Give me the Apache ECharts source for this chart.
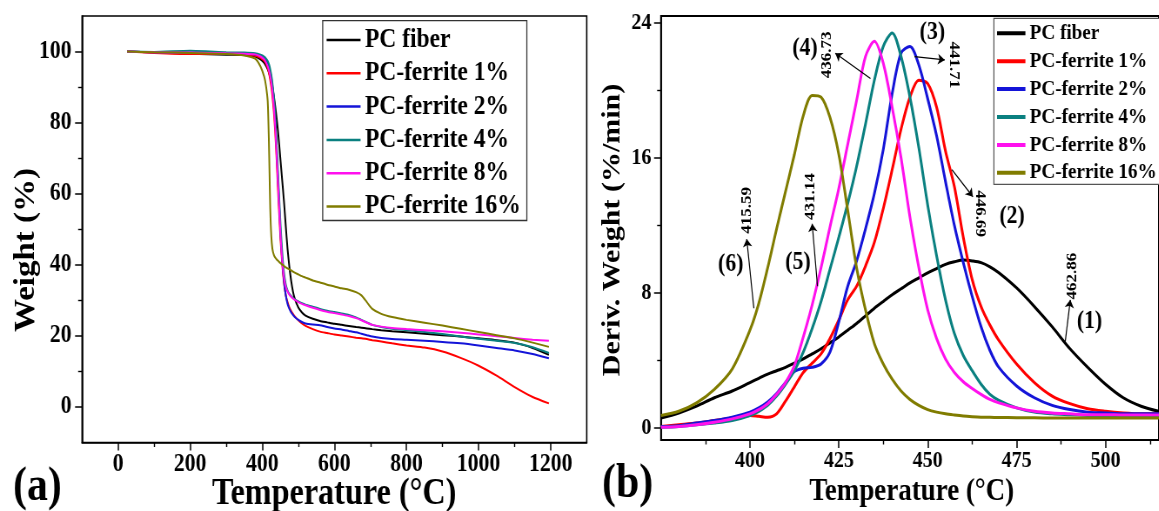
<!DOCTYPE html>
<html>
<head>
<meta charset="utf-8">
<script src="https://cdn.jsdelivr.net/npm/echarts@6/dist/echarts.min.js"></script>
<style>
  html, body { margin: 0; padding: 0; background: #fff; overflow: hidden; }
  #wrap { width: 1159px; height: 511px; overflow: hidden; }
  /* the figure is typeset slightly condensed horizontally */
  #chart { width: 1332px; height: 511px; transform: scaleX(0.87); transform-origin: 0 0; }
</style>
</head>
<body>
<div id="wrap"><div id="chart"></div></div>
<script>
// ---- (a) TGA: weight (%) vs temperature (°C) ----
const tgaTemp = [25, 100, 200, 300, 350, 380, 395, 405, 410, 415, 418, 420, 422, 425, 428, 432, 436, 440, 445, 450,
  455, 460, 465, 470, 475, 480, 485, 490, 500, 510, 520, 540, 560, 580, 600, 620, 640, 660, 675, 690,
  705, 730, 760, 800, 850, 900, 950, 1000, 1050, 1100, 1150, 1195];
const tgaPCFiber = [100, 99.8, 99.4, 99.1, 99.0, 98.6, 97.8, 96.8, 96, 95, 94.2, 93.5, 92.8, 91.5, 90, 87.5, 84.5, 81, 76, 70,
  64, 58, 51, 44.5, 39.5, 35.5, 32.5, 30.5, 28, 26.6, 25.7, 24.8, 24.2, 23.8, 23.4, 23.1, 22.8, 22.5, 22.3, 22.1,
  21.9, 21.6, 21.3, 21, 20.6, 20.2, 19.8, 19.3, 18.8, 18.1, 16.6, 14.7];
const tgaFerrite1 = [100, 99.6, 99.3, 99.3, 99.2, 98.8, 98.2, 97.4, 96.6, 95.3, 94.2, 93.2, 92, 90, 87.5, 83, 77, 69, 58, 48,
  40.5, 35, 31.5, 29.5, 28, 27, 26.2, 25.5, 24.4, 23.5, 22.8, 21.9, 21.2, 20.8, 20.4, 20.1, 19.8, 19.5, 19.3, 19.1,
  18.8, 18.4, 17.9, 17.3, 16.7, 15.6, 13.8, 11.6, 8.8, 5.6, 2.8, 1.0];
const tgaFerrite2 = [100, 99.8, 99.7, 99.5, 99.4, 99.2, 98.8, 98.2, 97.6, 96.8, 96, 95.2, 94.3, 92.6, 90.5, 86.5, 80.5, 72, 61, 50,
  41.5, 35.5, 31.5, 29, 27.6, 26.6, 25.9, 25.3, 24.5, 23.9, 23.5, 23.2, 23, 22.5, 22.1, 21.8, 21.4, 21, 20.6, 20.2,
  19.8, 19.4, 19.1, 18.9, 18.6, 18.3, 17.9, 17.3, 16.6, 15.9, 14.9, 13.7];
const tgaFerrite4 = [100, 99.9, 100.2, 99.8, 99.7, 99.5, 99.1, 98.6, 98.1, 97.3, 96.6, 95.9, 95, 93.4, 91.2, 87.2, 81.5, 73.5, 63, 52.5,
  44, 38, 34.5, 32.8, 31.8, 31.2, 30.7, 30.3, 29.7, 29.2, 28.8, 28.2, 27.6, 27.1, 26.7, 26.3, 25.9, 25.2, 24.5, 23.8,
  23.1, 22.5, 22, 21.6, 21.1, 20.5, 19.8, 19.2, 18.6, 18, 16.8, 15.2];
const tgaFerrite8 = [100, 99.8, 99.7, 99.5, 99.4, 99.2, 98.6, 97.8, 97, 95.8, 94.8, 94, 93, 91.2, 88.8, 84.5, 78.5, 70.5, 60, 49.5,
  41.5, 36.5, 33.8, 32.5, 31.6, 31, 30.5, 30.1, 29.5, 29, 28.6, 27.9, 27.3, 26.8, 26.4, 26, 25.6, 25, 24.4, 23.7,
  23.1, 22.6, 22.2, 21.9, 21.6, 21.3, 20.9, 20.4, 19.9, 19.4, 18.9, 18.6];
const tgaFerrite16 = [100, 99.8, 99.6, 99.3, 98.9, 98, 95.8, 93, 90.5, 86, 76, 66, 56, 48, 44.5, 42.8, 42, 41.5, 41, 40.5,
  40.1, 39.7, 39.3, 39, 38.7, 38.4, 38.1, 37.8, 37.3, 36.8, 36.4, 35.6, 35, 34.4, 33.9, 33.4, 33, 32.3, 31.4, 29.5,
  27.6, 26.2, 25.3, 24.5, 23.7, 22.9, 22, 21.1, 20.2, 19.3, 18.1, 16.9];

// ---- (b) DTG: derivative weight (%/min) vs temperature (°C) ----
const dtgTemp = [375, 380, 385, 390, 395, 400, 402.5, 405, 407.5, 410, 412.5, 415, 417.5, 420, 422.5, 425, 427.5, 430, 432.5, 435,
  437.5, 440, 442.5, 445, 447.5, 450, 452.5, 455, 457.5, 460, 462.5, 465, 467.5, 470, 475, 480, 485, 490, 495, 500,
  505, 510, 515];
const dtgPCFiber = [0.6, 0.9, 1.3, 1.8, 2.2, 2.7, 2.95, 3.2, 3.4, 3.6, 3.85, 4.1, 4.4, 4.7, 5.05, 5.4, 5.8, 6.2, 6.65, 7.1,
  7.5, 7.9, 8.25, 8.6, 8.9, 9.2, 9.45, 9.7, 9.85, 9.95, 9.9, 9.8, 9.55, 9.2, 8.3, 7.2, 6.0, 4.7, 3.6, 2.6,
  1.8, 1.3, 1.0];
const dtgFerrite1 = [0.1, 0.2, 0.3, 0.45, 0.6, 0.75, 0.7, 0.65, 0.85, 1.6, 2.45, 3.3, 3.85, 4.4, 5.3, 6.4, 7.6, 8.4, 9.6, 11.0,
  13.0, 15.3, 17.7, 19.6, 20.6, 20.4, 19.0, 16.4, 14.3, 11.3, 8.8, 7.2, 6.1, 5.2, 3.8, 2.7, 1.9, 1.45, 1.15, 1.0,
  0.9, 0.85, 0.85];
const dtgFerrite2 = [0.1, 0.15, 0.3, 0.45, 0.65, 0.95, 1.2, 1.55, 2.05, 2.7, 3.35, 3.55, 3.6, 3.8, 4.5, 6.3, 8.4, 9.9, 11.8, 13.9,
  16.5, 19.8, 22.2, 22.6, 21.5, 19.5, 17.3, 14.6, 12.0, 9.8, 7.8, 6.0, 4.6, 3.6, 2.5, 1.8, 1.35, 1.1, 0.95, 0.9,
  0.85, 0.85, 0.85];
const dtgFerrite4 = [0.05, 0.1, 0.2, 0.3, 0.45, 0.75, 1.0, 1.35, 1.9, 2.6, 3.4, 4.5, 5.9, 7.5, 9.4, 11.3, 13.3, 15.5, 18.0, 20.6,
  22.6, 23.4, 22.0, 19.6, 16.6, 13.2, 10.2, 7.6, 5.6, 4.3, 3.4, 2.6, 2.0, 1.65, 1.2, 0.95, 0.85, 0.8, 0.75, 0.72,
  0.7, 0.7, 0.7];
const dtgFerrite8 = [0.05, 0.1, 0.2, 0.35, 0.55, 0.85, 1.1, 1.45, 2.0, 2.7, 3.7, 5.4, 7.3, 9.5, 11.9, 14.2, 16.8, 19.4, 22.0, 22.9,
  21.6, 19.0, 16.0, 12.5, 9.5, 7.0, 5.3, 4.1, 3.3, 2.75, 2.35, 2.0, 1.7, 1.5, 1.2, 1.0, 0.9, 0.85, 0.8, 0.8,
  0.78, 0.78, 0.78];
const dtgFerrite16 = [0.75, 1.0, 1.5, 2.3, 3.5, 5.8, 7.4, 9.5, 11.8, 14.0, 16.2, 18.5, 19.7, 19.6, 18.4, 16.2, 12.9, 9.5, 7.0, 5.0,
  3.8, 2.9, 2.2, 1.7, 1.35, 1.1, 0.95, 0.85, 0.78, 0.72, 0.68, 0.65, 0.64, 0.63, 0.62, 0.61, 0.6, 0.6, 0.6, 0.6,
  0.6, 0.6, 0.6];

const seriesNames = ['PC fiber', 'PC-ferrite 1%', 'PC-ferrite 2%', 'PC-ferrite 4%', 'PC-ferrite 8%', 'PC-ferrite 16%'];
const seriesColors = ['#000000', '#ff0000', '#1414d8', '#0a8080', '#ff10ee', '#807c00'];
const tgaSets = [tgaPCFiber, tgaFerrite1, tgaFerrite2, tgaFerrite4, tgaFerrite8, tgaFerrite16];
const dtgSets = [dtgPCFiber, dtgFerrite1, dtgFerrite2, dtgFerrite4, dtgFerrite8, dtgFerrite16];

// ticks and tick labels
const tgaXLabels = [0, 200, 400, 600, 800, 1000, 1200];
const tgaXMinor = [100, 300, 500, 700, 900, 1100];
const tgaYLabels = [0, 20, 40, 60, 80, 100];
const tgaYMinor = [10, 30, 50, 70, 90];
const dtgXLabels = [400, 425, 450, 475, 500];
const dtgXMinor = [387.5, 412.5, 437.5, 462.5, 487.5, 512.5];
const dtgYLabels = [0, 8, 16, 24];
const dtgYMinor = [4, 12, 20];

// peak temperature annotations on the DTG curves: [text, T, D]
const peakNotes = [['462.86', 490.6, 9.0], ['446.69', 464.7, 12.7], ['441.71', 457.3, 21.5],
  ['436.73', 421.8, 22.1], ['431.14', 417.0, 13.7], ['415.59', 399.1, 12.9]];
const peakNoteRotate = [90, -90, -90, 90, 90, 90];
const curveTags = [['(1)', 495.5, 6.3], ['(2)', 473.7, 12.5], ['(3)', 451.3, 23.4],
  ['(4)', 415.5, 22.5], ['(5)', 413.5, 9.8], ['(6)', 394.6, 9.7]];
// arrows from a point on the curve towards its annotation: [[T, D], [T, D]]
const noteArrows = [[[488.6, 5.0], [490.1, 7.6]], [[456.8, 15.3], [462.7, 13.7]], [[446.3, 22.0], [454.8, 21.8]],
  [[433.9, 20.7], [424.0, 22.2]], [[419.0, 8.4], [417.5, 12.1]], [[401.1, 7.1], [399.1, 11.2]]];

const FONT = '"Liberation Serif", "Times New Roman", serif';

function mainAxis(grid, pos, min, max, labels, fontSize, margin) {
  return {
    type: 'value', gridIndex: grid, position: pos, min: min, max: max,
    axisLine: { show: true, onZero: false, lineStyle: { color: '#000', width: 1.6 } },
    axisTick: { show: true, inside: false, length: 8, customValues: labels, lineStyle: { color: '#000', width: 1.5 } },
    axisLabel: { show: true, customValues: labels, margin: margin, color: '#000', fontFamily: FONT,
      fontWeight: 'bold', fontSize: fontSize, formatter: v => String(v) },
    splitLine: { show: false }
  };
}
// companion axis carrying only the short intermediate ticks
function minorAxis(grid, pos, min, max, ticks) {
  return {
    type: 'value', gridIndex: grid, position: pos, offset: 0, min: min, max: max,
    axisLine: { show: false, onZero: false },
    axisTick: { show: true, inside: false, length: 4.5, customValues: ticks, lineStyle: { color: '#000', width: 1.4 } },
    axisLabel: { show: false },
    splitLine: { show: false }
  };
}

const series = [];
seriesNames.forEach((name, i) => {
  series.push({
    name: name, type: 'line', xAxisIndex: 0, yAxisIndex: 0,
    data: tgaTemp.map((t, k) => [t, tgaSets[i][k]]),
    showSymbol: false, smooth: 0.2, color: seriesColors[i],
    lineStyle: { width: 2, color: seriesColors[i] }
  });
});
seriesNames.forEach((name, i) => {
  series.push({
    name: name, type: 'line', xAxisIndex: 2, yAxisIndex: 2,
    data: dtgTemp.map((t, k) => [t, dtgSets[i][k]]),
    showSymbol: false, smooth: 0.3, color: seriesColors[i],
    lineStyle: { width: 3, color: seriesColors[i] }
  });
});
// annotation texts and arrows of panel (b)
const noteLabel = { show: true, position: 'inside', fontFamily: FONT, fontWeight: 'bold', color: '#000',
  opacity: 1, textBorderWidth: 0, textBorderColor: 'transparent', textShadowBlur: 0 };
series.push({
  name: 'peak notes', type: 'scatter', xAxisIndex: 2, yAxisIndex: 2, silent: true,
  symbolSize: 0, itemStyle: { color: '#000', opacity: 1 },
  data: peakNotes.map((n, i) => ({
    value: [n[1], n[2]],
    label: Object.assign({}, noteLabel, { formatter: n[0], rotate: peakNoteRotate[i], fontSize: 17 })
  })).concat(curveTags.map(c => ({
    value: [c[1], c[2]],
    label: Object.assign({}, noteLabel, { formatter: c[0], fontSize: 25 })
  }))),
  markLine: {
    silent: true, symbol: ['none', 'arrow'], symbolSize: 8,
    label: { show: false },
    lineStyle: { color: '#000', width: 1.2, type: 'solid', opacity: 1 },
    data: noteArrows.map(a => [{ coord: a[0] }, { coord: a[1] }])
  }
});

function titleText(text, x, y, size, rot) {
  return { type: 'text', x: x, y: y, rotation: rot || 0, silent: true,
    style: { text: text, fill: '#000', fontFamily: FONT, fontWeight: 'bold', fontSize: size,
      align: 'center', verticalAlign: 'middle' } };
}

const option = {
  animation: false,
  backgroundColor: '#fff',
  textStyle: { fontFamily: FONT },
  grid: [
    { left: 94.3, top: 16, width: 580.1, height: 426.5, show: true, borderColor: '#000', borderWidth: 1.6, backgroundColor: 'transparent' },
    { left: 759.8, top: 16, width: 588, height: 424, show: true, borderColor: '#000', borderWidth: 2, backgroundColor: 'transparent' }
  ],
  xAxis: [
    mainAxis(0, 'bottom', -100, 1300, tgaXLabels, 25, 10),
    minorAxis(0, 'bottom', -100, 1300, tgaXMinor),
    mainAxis(1, 'bottom', 375, 515, dtgXLabels, 23, 10),
    minorAxis(1, 'bottom', 375, 515, dtgXMinor)
  ],
  yAxis: [
    mainAxis(0, 'left', -10, 110, tgaYLabels, 25, 12),
    minorAxis(0, 'left', -10, 110, tgaYMinor),
    mainAxis(1, 'left', -0.7, 24.4, dtgYLabels, 23, 11),
    minorAxis(1, 'left', -0.7, 24.4, dtgYMinor)
  ],
  legend: [
    { data: seriesNames, orient: 'vertical', left: 370.9, top: 20.7, padding: [5.8, 7, 0.5, 4.5],
      itemWidth: 39, itemHeight: 2.5, itemGap: 6.3, icon: 'rect', selectedMode: false,
      borderColor: '#333', borderWidth: 1.3, backgroundColor: '#fff',
      textStyle: { fontFamily: FONT, fontWeight: 'bold', fontSize: 27, lineHeight: 27, color: '#000' } },
    { data: seriesNames, orient: 'vertical', left: 1142.4, top: 18.3, padding: [4, 12, 0.6, 3.6],
      itemWidth: 32.6, itemHeight: 4, itemGap: 5.9, icon: 'rect', selectedMode: false,
      borderColor: '#555', borderWidth: 1.2, backgroundColor: '#fff',
      textStyle: { fontFamily: FONT, fontWeight: 'bold', fontSize: 22, lineHeight: 22, color: '#000' } }
  ],
  graphic: [
    titleText('Weight (%)', 30.7, 250, 33, Math.PI / 2),
    titleText('Temperature (°C)', 384.1, 494, 37),
    titleText('(a)', 43, 488, 48),
    titleText('Deriv. Weight (%/min)', 704, 230, 30, Math.PI / 2),
    titleText('Temperature (°C)', 1047.9, 491.5, 31),
    titleText('(b)', 721.3, 484.5, 48)
  ],
  series: series
};

const chart = echarts.init(document.getElementById('chart'), null, { renderer: 'canvas' });
chart.setOption(option);
</script>
</body>
</html>
